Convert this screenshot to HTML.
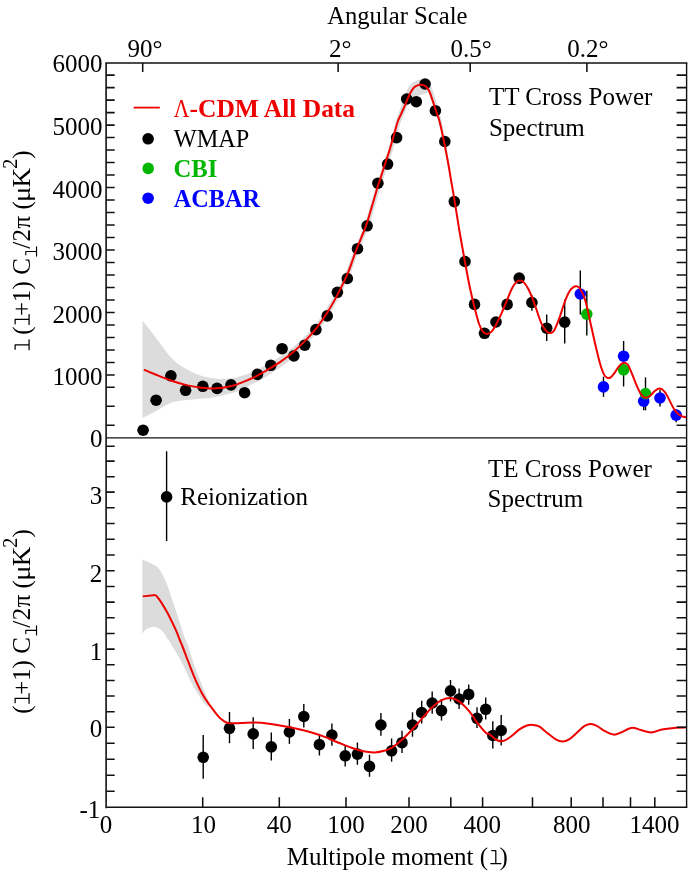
<!DOCTYPE html>
<html><head><meta charset="utf-8"><title>WMAP TT and TE power spectra</title>
<style>html,body{margin:0;padding:0;background:#fff}svg{display:block;will-change:transform}text{font-family:"Liberation Serif",serif;font-size:25px;fill:#000}.m{font-family:"Liberation Mono",monospace}.b{font-weight:bold}</style></head><body>
<svg width="689" height="877" viewBox="0 0 689 877">
<rect width="689" height="877" fill="#fff"/>
<path d="M142.5,320.8 C144.8,323.6 151.5,332.0 156.1,337.9 C160.7,343.8 165.7,351.4 170.0,356.2 C174.3,361.0 177.2,363.4 182.2,366.6 C187.1,369.8 193.9,373.3 199.7,375.3 C205.5,377.3 211.3,378.4 217.1,378.8 C222.9,379.2 231.0,378.1 234.5,377.9 C238.0,377.6 237.4,377.4 238.0,377.3 L238.0,391.0 C237.4,391.2 238.0,391.2 234.5,392.2 C231.0,393.1 222.9,395.6 217.1,396.7 C211.3,397.8 205.5,398.1 199.7,398.8 C193.9,399.5 187.1,399.9 182.2,400.6 C177.2,401.3 174.3,401.5 170.0,403.2 C165.7,404.9 160.7,408.5 156.1,411.0 C151.5,413.5 144.8,416.8 142.5,418.0Z" fill="#dcdcdc"/>
<path d="M236.2,391.9 C236.4,391.9 237.2,391.6 237.7,391.4 C238.1,391.3 238.5,391.2 238.9,391.0 C239.3,390.9 239.7,390.7 240.0,390.5 C240.3,390.4 240.5,390.2 240.9,390.0 C241.4,389.8 241.8,389.5 242.5,389.2 C243.2,388.8 244.2,388.3 245.2,387.8 C246.2,387.3 247.4,386.7 248.6,386.0 C249.8,385.4 251.1,384.7 252.4,384.1 C253.7,383.4 255.0,382.8 256.3,382.2 C257.5,381.6 258.7,381.0 259.8,380.4 C260.9,379.8 261.9,379.3 262.9,378.7 C263.9,378.1 264.8,377.5 265.8,377.0 C266.7,376.4 267.6,375.8 268.4,375.3 C269.3,374.7 270.1,374.2 271.0,373.6 C271.8,373.1 272.6,372.6 273.4,372.0 C274.2,371.5 275.0,371.0 275.7,370.5 C276.5,370.0 277.2,369.5 278.0,369.0 C278.7,368.5 279.4,368.0 280.2,367.5 C280.9,367.0 281.6,366.5 282.4,365.9 C283.1,365.4 283.9,364.8 284.7,364.2 C285.4,363.6 286.2,363.0 287.0,362.4 C287.8,361.8 288.6,361.1 289.4,360.5 C290.2,359.8 291.0,359.1 291.8,358.5 C292.5,357.8 293.3,357.1 294.1,356.4 C294.9,355.7 295.7,355.0 296.4,354.3 C297.2,353.6 297.9,352.9 298.6,352.2 C299.4,351.5 300.1,350.8 300.8,350.1 C301.5,349.4 302.2,348.7 302.9,348.0 C303.7,347.3 304.4,346.5 305.1,345.8 C305.8,345.0 306.5,344.3 307.2,343.5 C308.0,342.7 308.7,341.9 309.4,341.1 C310.1,340.3 310.9,339.5 311.6,338.7 C312.3,337.9 313.1,337.1 313.8,336.2 C314.5,335.3 315.3,334.4 316.0,333.5 C316.8,332.6 317.5,331.7 318.3,330.7 C319.0,329.7 319.8,328.7 320.5,327.7 C321.3,326.6 322.1,325.6 322.8,324.5 C323.6,323.4 324.4,322.3 325.1,321.2 C325.9,320.0 326.6,318.9 327.4,317.7 C328.1,316.6 328.8,315.4 329.6,314.3 C330.3,313.1 331.0,312.0 331.7,310.8 C332.3,309.6 333.0,308.4 333.7,307.3 C334.4,306.1 335.0,304.8 335.7,303.6 C336.4,302.4 337.0,301.2 337.7,299.9 C338.3,298.7 339.0,297.4 339.7,296.1 C340.3,294.8 341.0,293.4 341.7,292.0 C342.4,290.6 343.2,289.1 343.9,287.7 C344.6,286.2 345.3,284.8 346.0,283.3 C346.7,281.9 347.3,280.5 348.0,279.2 C348.6,277.9 349.2,276.6 349.7,275.4 C350.2,274.3 350.7,273.2 351.1,272.1 C351.5,271.1 351.9,270.1 352.2,269.1 C352.6,268.2 352.9,267.2 353.2,266.4 C353.5,265.5 353.8,264.7 354.1,263.8 C354.4,263.0 354.7,262.2 355.0,261.4 C355.3,260.6 355.6,259.8 355.8,259.1 C356.1,258.4 356.3,257.7 356.6,257.0 C356.8,256.4 357.0,255.7 357.3,255.1 C357.5,254.4 357.7,253.8 358.0,253.1 C358.3,252.4 358.5,251.7 358.8,251.0 C359.1,250.2 359.4,249.4 359.7,248.6 C360.1,247.8 360.4,247.0 360.7,246.2 C361.1,245.4 361.4,244.5 361.8,243.7 C362.1,242.8 362.5,242.0 362.8,241.1 C363.2,240.3 363.5,239.4 363.9,238.6 C364.2,237.8 364.5,237.1 364.8,236.3 C365.1,235.6 365.4,234.9 365.8,234.1 C366.1,233.4 366.4,232.6 366.7,231.8 C367.0,231.0 367.4,230.2 367.7,229.3 C368.1,228.4 368.4,227.5 368.8,226.4 C369.1,225.4 369.5,224.2 369.9,223.0 C370.3,221.9 370.7,220.6 371.1,219.3 C371.4,218.0 371.8,216.7 372.2,215.4 C372.6,214.1 373.0,212.7 373.4,211.4 C373.8,210.2 374.2,208.9 374.6,207.6 C375.0,206.3 375.3,205.1 375.7,203.8 C376.1,202.5 376.5,201.2 376.8,200.0 C377.2,198.7 377.6,197.4 377.9,196.1 C378.3,194.9 378.7,193.7 379.0,192.5 C379.4,191.3 379.7,190.2 380.0,189.2 C380.4,188.1 380.7,187.1 381.0,186.2 C381.3,185.2 381.6,184.3 381.9,183.4 C382.2,182.6 382.5,181.7 382.8,180.9 C383.0,180.0 383.3,179.2 383.6,178.3 C383.9,177.5 384.2,176.6 384.5,175.7 C384.8,174.9 385.0,174.0 385.3,173.1 C385.6,172.2 385.9,171.4 386.2,170.5 C386.4,169.7 386.7,168.8 387.0,168.0 C387.3,167.1 387.5,166.3 387.8,165.4 C388.1,164.6 388.4,163.8 388.6,162.9 C388.9,162.1 389.2,161.3 389.4,160.5 C389.7,159.7 390.0,158.9 390.2,158.1 C390.5,157.3 390.8,156.6 391.0,155.8 C391.3,155.0 391.6,154.2 391.8,153.4 C392.1,152.6 392.3,151.7 392.6,150.9 C392.8,150.1 393.1,149.3 393.3,148.5 C393.6,147.7 393.8,146.9 394.0,146.1 C394.3,145.3 394.5,144.5 394.8,143.7 C395.0,142.9 395.2,142.0 395.5,141.2 C395.7,140.3 396.0,139.4 396.3,138.5 C396.5,137.5 396.8,136.5 397.1,135.4 C397.4,134.3 397.7,133.2 398.0,132.1 C398.3,131.0 398.6,129.8 398.9,128.7 C399.2,127.6 399.4,126.5 399.7,125.6 C400.0,124.6 400.2,123.7 400.4,123.0 C400.7,122.2 400.9,121.6 401.1,121.0 C401.3,120.4 401.5,119.9 401.7,119.4 C401.9,119.0 402.1,118.5 402.3,118.1 C402.5,117.6 402.7,117.1 403.0,116.6 C403.2,116.1 403.4,115.5 403.7,114.9 C403.9,114.3 404.2,113.7 404.5,113.0 C404.7,112.4 405.0,111.7 405.3,111.1 C405.5,110.4 405.8,109.7 406.1,109.1 C406.4,108.4 406.7,107.7 406.9,107.1 C407.2,106.4 407.5,105.8 407.7,105.1 C408.0,104.5 408.2,103.9 408.4,103.3 C408.6,102.6 408.9,102.0 409.1,101.4 C409.3,100.8 409.5,100.2 409.7,99.7 C409.9,99.1 410.1,98.6 410.3,98.0 C410.6,97.5 410.8,97.0 411.0,96.4 C411.3,95.9 411.5,95.4 411.8,94.8 C412.1,94.3 412.3,93.7 412.6,93.2 C412.9,92.7 413.1,92.2 413.4,91.7 C413.7,91.2 413.9,90.8 414.2,90.4 C414.4,90.0 414.7,89.6 414.9,89.3 C415.1,89.0 415.3,88.8 415.5,88.6 C415.7,88.4 415.9,88.3 416.1,88.1 C416.3,88.0 416.5,87.8 416.7,87.7 C416.9,87.6 417.2,87.5 417.4,87.4 C417.7,87.2 417.9,87.1 418.1,87.0 C418.4,86.9 418.6,86.8 418.8,86.7 C419.0,86.6 419.2,86.6 419.4,86.5 C419.6,86.4 419.8,86.4 420.0,86.4 C420.2,86.3 420.4,86.3 420.6,86.3 C420.8,86.3 421.0,86.3 421.2,86.3 C421.4,86.3 421.6,86.3 421.8,86.3 C422.0,86.4 422.2,86.4 422.5,86.5 C422.7,86.5 422.9,86.6 423.1,86.6 C423.3,86.7 423.5,86.8 423.7,86.9 C423.9,87.0 424.0,87.0 424.2,87.1 C424.4,87.2 424.5,87.3 424.7,87.4 C424.8,87.5 424.9,87.7 425.1,87.8 C425.2,87.9 425.4,88.1 425.5,88.2 C425.6,88.4 425.8,88.6 425.9,88.7 C426.1,88.9 426.2,89.1 426.4,89.3 C426.5,89.5 426.6,89.7 426.8,89.9 C426.9,90.1 427.0,90.2 427.1,90.4 C427.2,90.6 427.3,90.8 427.5,91.0 C427.6,91.2 427.7,91.5 427.8,91.8 C428.0,92.1 428.1,92.4 428.3,92.8 C428.5,93.2 428.6,93.6 428.8,94.1 C429.0,94.6 429.2,95.1 429.4,95.7 C429.6,96.2 429.8,96.8 430.0,97.4 C430.2,98.0 430.4,98.7 430.6,99.3 C430.9,99.9 431.1,100.5 431.3,101.2 C431.5,101.8 431.7,102.4 432.0,103.1 C432.2,103.8 432.4,104.5 432.7,105.2 C432.9,105.9 433.1,106.6 433.4,107.3 C433.6,108.0 433.9,108.7 434.1,109.5 C434.3,110.2 434.6,110.9 434.8,111.6 C435.1,112.3 435.3,113.0 435.6,113.6 C435.8,114.2 436.0,114.8 436.3,115.4 C436.5,116.0 436.7,116.6 437.0,117.3 C437.2,117.9 437.5,118.6 437.7,119.5 C438.0,120.3 438.2,121.2 438.5,122.3 C438.8,123.4 439.1,124.6 439.5,126.0 C439.8,127.3 440.1,128.8 440.5,130.3 C440.8,131.8 441.2,133.4 441.5,135.0 C441.9,136.5 442.2,138.2 442.5,139.7 C442.9,141.2 443.2,142.7 443.5,144.2 C443.8,145.7 444.1,147.1 444.4,148.5 C444.7,150.0 445.1,151.5 445.4,152.9 C445.7,154.4 446.0,155.8 446.2,157.2 C446.5,158.6 446.8,160.0 447.1,161.3 C447.3,162.6 447.6,163.9 447.8,165.1 C448.1,166.3 448.3,167.4 448.5,168.4 C448.7,169.4 448.8,170.4 449.0,171.3 C449.2,172.2 449.3,173.1 449.5,174.1 C449.6,175.0 449.8,175.9 450.0,176.9 C450.2,177.9 450.3,179.0 450.6,180.1 C450.8,181.2 451.0,182.3 451.2,183.5 C451.4,184.6 451.6,185.8 451.9,186.9 C452.1,188.1 452.3,189.3 452.6,190.6 C452.8,192.0 453.1,193.3 453.4,194.8 C453.7,196.3 453.9,197.8 454.3,199.5 C454.6,201.2 455.1,204.2 455.2,205.1 L455.4,205.1 C455.3,204.1 454.8,201.2 454.6,199.5 C454.4,197.7 454.1,196.2 453.9,194.7 C453.7,193.2 453.5,191.8 453.3,190.5 C453.1,189.2 452.9,188.0 452.7,186.8 C452.5,185.6 452.3,184.5 452.1,183.3 C452.0,182.2 451.8,181.0 451.6,179.9 C451.5,178.8 451.3,177.7 451.2,176.7 C451.0,175.7 450.9,174.8 450.8,173.8 C450.6,172.9 450.5,172.0 450.4,171.1 C450.2,170.1 450.1,169.2 449.9,168.2 C449.8,167.1 449.6,166.0 449.4,164.8 C449.3,163.6 449.0,162.3 448.8,161.0 C448.6,159.7 448.4,158.3 448.2,156.9 C447.9,155.5 447.7,154.0 447.5,152.5 C447.2,151.1 447.0,149.6 446.7,148.1 C446.4,146.6 446.2,145.2 445.9,143.7 C445.7,142.2 445.4,140.7 445.1,139.2 C444.9,137.6 444.6,136.0 444.3,134.4 C444.0,132.8 443.7,131.2 443.4,129.6 C443.1,128.1 442.8,126.6 442.6,125.2 C442.3,123.9 442.0,122.6 441.8,121.5 C441.5,120.3 441.3,119.4 441.1,118.5 C440.8,117.6 440.6,116.8 440.4,116.1 C440.2,115.4 440.0,114.7 439.8,114.1 C439.6,113.5 439.4,112.9 439.2,112.3 C439.0,111.7 438.8,111.0 438.6,110.4 C438.4,109.7 438.2,108.9 438.0,108.2 C437.8,107.5 437.6,106.7 437.4,106.0 C437.2,105.3 437.0,104.6 436.8,103.8 C436.6,103.1 436.4,102.4 436.2,101.7 C436.0,101.0 435.8,100.4 435.6,99.7 C435.5,99.1 435.3,98.4 435.1,97.8 C434.9,97.1 434.7,96.5 434.5,95.9 C434.4,95.2 434.2,94.6 434.0,94.0 C433.8,93.5 433.6,92.9 433.5,92.3 C433.3,91.8 433.1,91.3 433.0,90.9 C432.8,90.4 432.7,90.0 432.5,89.6 C432.4,89.2 432.2,88.9 432.1,88.6 C431.9,88.2 431.8,87.9 431.6,87.7 C431.5,87.4 431.3,87.1 431.2,86.9 C431.0,86.6 430.9,86.4 430.7,86.1 C430.5,85.9 430.4,85.6 430.2,85.3 C430.0,85.1 429.8,84.8 429.6,84.5 C429.4,84.3 429.2,84.0 429.0,83.7 C428.7,83.4 428.4,83.2 428.1,82.9 C427.8,82.6 427.5,82.4 427.2,82.1 C426.8,81.9 426.5,81.7 426.1,81.5 C425.8,81.3 425.4,81.1 425.1,81.0 C424.7,80.8 424.3,80.6 423.9,80.5 C423.6,80.4 423.2,80.2 422.8,80.1 C422.4,80.0 422.0,80.0 421.6,79.9 C421.2,79.8 420.8,79.8 420.4,79.8 C420.0,79.8 419.6,79.8 419.2,79.8 C418.8,79.9 418.3,80.0 417.9,80.1 C417.5,80.2 417.1,80.3 416.8,80.5 C416.4,80.6 416.0,80.8 415.7,81.0 C415.4,81.1 415.1,81.2 414.8,81.4 C414.5,81.6 414.1,81.7 413.7,82.0 C413.4,82.2 412.9,82.5 412.5,82.8 C412.1,83.1 411.6,83.5 411.2,83.9 C410.8,84.3 410.4,84.8 410.0,85.2 C409.6,85.7 409.3,86.3 408.9,86.8 C408.6,87.3 408.3,87.9 408.0,88.5 C407.7,89.0 407.4,89.6 407.1,90.2 C406.8,90.8 406.5,91.4 406.2,92.0 C405.9,92.6 405.7,93.1 405.4,93.7 C405.1,94.3 404.9,94.9 404.7,95.5 C404.4,96.1 404.2,96.8 404.0,97.4 C403.8,98.0 403.6,98.6 403.4,99.2 C403.2,99.8 403.0,100.4 402.9,101.0 C402.7,101.6 402.5,102.2 402.3,102.8 C402.1,103.4 401.8,104.1 401.6,104.7 C401.4,105.4 401.1,106.1 400.9,106.7 C400.6,107.4 400.4,108.1 400.2,108.8 C399.9,109.4 399.7,110.1 399.4,110.8 C399.2,111.4 399.0,112.1 398.8,112.7 C398.5,113.3 398.3,113.8 398.2,114.3 C398.0,114.8 397.8,115.3 397.6,115.8 C397.4,116.3 397.2,116.8 397.0,117.3 C396.8,117.9 396.6,118.5 396.4,119.1 C396.1,119.8 395.9,120.5 395.7,121.4 C395.5,122.2 395.2,123.2 395.0,124.2 C394.8,125.2 394.5,126.3 394.3,127.4 C394.0,128.5 393.8,129.7 393.5,130.8 C393.2,132.0 392.9,133.1 392.6,134.2 C392.3,135.2 392.0,136.2 391.7,137.2 C391.5,138.1 391.2,139.0 391.0,139.9 C390.7,140.7 390.5,141.6 390.2,142.4 C390.0,143.2 389.8,144.0 389.5,144.8 C389.3,145.6 389.1,146.4 388.8,147.2 C388.6,147.9 388.4,148.7 388.1,149.5 C387.9,150.3 387.6,151.1 387.4,151.9 C387.1,152.7 386.8,153.5 386.6,154.3 C386.3,155.1 386.1,155.9 385.8,156.7 C385.5,157.5 385.3,158.3 385.0,159.1 C384.7,159.9 384.5,160.7 384.2,161.5 C383.9,162.3 383.6,163.2 383.4,164.0 C383.1,164.8 382.8,165.7 382.6,166.5 C382.3,167.4 382.0,168.2 381.7,169.1 C381.5,170.0 381.2,170.8 380.9,171.7 C380.6,172.6 380.3,173.4 380.0,174.3 C379.8,175.2 379.5,176.0 379.2,176.9 C378.9,177.7 378.6,178.5 378.3,179.4 C378.1,180.2 377.8,181.1 377.5,182.0 C377.2,182.9 376.9,183.8 376.6,184.8 C376.2,185.7 375.9,186.7 375.6,187.8 C375.3,188.9 374.9,190.0 374.6,191.2 C374.2,192.4 373.9,193.6 373.5,194.9 C373.1,196.1 372.8,197.4 372.4,198.7 C372.0,200.0 371.6,201.3 371.3,202.5 C370.9,203.8 370.5,205.0 370.1,206.3 C369.8,207.6 369.4,208.8 369.0,210.1 C368.6,211.4 368.2,212.8 367.8,214.1 C367.4,215.4 367.0,216.7 366.6,218.0 C366.3,219.2 365.9,220.5 365.5,221.6 C365.1,222.8 364.8,223.9 364.4,224.9 C364.1,225.9 363.7,226.8 363.4,227.7 C363.1,228.6 362.8,229.3 362.4,230.1 C362.1,230.9 361.8,231.6 361.5,232.3 C361.2,233.1 360.9,233.8 360.5,234.5 C360.2,235.3 359.9,236.1 359.5,236.9 C359.2,237.7 358.9,238.5 358.5,239.4 C358.2,240.2 357.8,241.0 357.4,241.9 C357.1,242.7 356.7,243.6 356.4,244.4 C356.0,245.2 355.7,246.1 355.4,246.9 C355.0,247.7 354.7,248.5 354.4,249.3 C354.1,250.0 353.8,250.8 353.5,251.5 C353.3,252.2 353.0,252.8 352.8,253.5 C352.6,254.1 352.3,254.8 352.1,255.4 C351.8,256.1 351.6,256.8 351.3,257.5 C351.1,258.2 350.8,259.0 350.5,259.8 C350.2,260.6 349.9,261.4 349.6,262.2 C349.3,263.1 349.0,263.9 348.7,264.8 C348.4,265.6 348.0,266.5 347.7,267.4 C347.3,268.4 347.0,269.3 346.6,270.3 C346.2,271.3 345.7,272.3 345.2,273.5 C344.7,274.6 344.1,275.9 343.5,277.1 C342.9,278.4 342.2,279.8 341.5,281.2 C340.8,282.6 340.1,284.1 339.4,285.5 C338.7,286.9 337.9,288.4 337.2,289.7 C336.5,291.1 335.8,292.4 335.1,293.7 C334.4,295.0 333.8,296.2 333.1,297.4 C332.4,298.7 331.8,299.9 331.1,301.1 C330.4,302.2 329.7,303.4 329.0,304.6 C328.4,305.7 327.7,306.8 327.0,308.0 C326.3,309.1 325.6,310.2 324.8,311.3 C324.1,312.4 323.4,313.5 322.6,314.6 C321.9,315.7 321.1,316.8 320.4,317.9 C319.6,318.9 318.8,320.0 318.1,321.0 C317.3,322.1 316.5,323.1 315.8,324.1 C315.0,325.0 314.3,326.0 313.5,326.9 C312.8,327.8 312.0,328.7 311.3,329.5 C310.6,330.4 309.8,331.2 309.1,332.0 C308.3,332.8 307.6,333.5 306.8,334.3 C306.1,335.0 305.4,335.8 304.6,336.5 C303.9,337.3 303.1,338.0 302.4,338.7 C301.6,339.4 300.9,340.1 300.2,340.8 C299.4,341.5 298.7,342.2 298.0,342.8 C297.3,343.5 296.6,344.1 295.8,344.8 C295.1,345.4 294.4,346.0 293.6,346.7 C292.9,347.3 292.2,347.9 291.4,348.5 C290.6,349.1 289.8,349.7 289.1,350.3 C288.3,350.9 287.5,351.5 286.7,352.1 C285.9,352.6 285.1,353.2 284.3,353.8 C283.5,354.3 282.7,354.9 281.9,355.4 C281.1,356.0 280.3,356.5 279.5,357.0 C278.8,357.5 278.0,357.9 277.3,358.4 C276.6,358.8 275.9,359.2 275.1,359.7 C274.4,360.1 273.7,360.5 272.9,360.9 C272.2,361.3 271.4,361.7 270.6,362.2 C269.9,362.6 269.0,363.1 268.2,363.6 C267.4,364.0 266.5,364.5 265.7,365.0 C264.8,365.5 264.0,366.0 263.1,366.5 C262.3,367.0 261.4,367.5 260.5,368.0 C259.6,368.5 258.8,368.9 257.8,369.4 C256.9,369.9 256.0,370.3 255.0,370.8 C254.0,371.3 252.9,371.7 251.7,372.2 C250.5,372.7 249.2,373.3 247.9,373.8 C246.6,374.3 245.2,374.7 244.0,375.1 C242.7,375.5 241.5,375.9 240.4,376.3 C239.3,376.6 238.3,377.0 237.5,377.2 C236.7,377.5 236.1,377.7 235.6,377.9 C235.1,378.0 234.9,378.2 234.7,378.2 C234.5,378.3 234.6,378.2 234.6,378.2 C234.5,378.2 234.5,378.2 234.2,378.2 C233.9,378.3 233.0,378.4 232.8,378.5Z" fill="#dcdcdc"/>
<path d="M406.3,103.5 C408,92 412.5,81.8 419,79.9 C421,79.4 423,79.6 424.5,80.5 L431,94 L428.5,92.5 C426,93 424,94 421.3,94.8 C417,96 413,97.5 410.5,99.5 L407.8,105.5 Z" fill="#dcdcdc"/>
<path d="M142.3,559.5 C143.8,560.2 148.6,562.1 151.3,563.5 C154.0,564.9 156.3,565.8 158.3,567.9 C160.3,570.0 161.7,573.0 163.2,576.0 C164.7,579.0 166.1,582.0 167.5,585.8 C168.9,589.6 170.4,594.5 171.8,598.8 C173.2,603.1 174.8,607.5 176.2,611.8 C177.6,616.1 179.2,620.6 180.5,624.8 C181.8,628.9 183.2,633.8 184.3,636.7 C185.4,639.7 185.9,640.0 186.8,642.5 C187.8,645.0 188.7,647.8 190.0,651.9 C191.3,656.0 193.4,662.7 194.9,667.0 C196.4,671.3 197.6,673.7 199.2,677.9 C200.9,682.1 203.2,688.1 204.7,692.0 C206.2,695.9 207.9,699.5 208.5,701.0 L210.0,707.5 C209.3,707.1 207.2,706.4 205.8,705.0 C204.3,703.6 203.7,702.6 201.4,699.0 C199.1,695.4 195.1,689.7 191.7,683.3 C188.3,676.9 184.4,667.5 180.8,660.6 C177.2,653.8 172.2,645.8 170.0,642.2 C167.8,638.6 168.4,640.3 167.5,638.8 C166.6,637.3 165.6,635.0 164.3,633.4 C163.0,631.8 161.5,630.2 159.9,629.1 C158.3,628.0 156.6,627.2 155.0,626.9 C153.4,626.6 151.7,627.0 150.2,627.5 C148.7,628.0 147.1,628.5 145.8,629.6 C144.5,630.7 142.9,633.3 142.3,634.0Z" fill="#dcdcdc"/>
<line x1="531.9" y1="295.0" x2="531.9" y2="310.7" stroke="#000" stroke-width="1.4"/>
<line x1="546.7" y1="314.4" x2="546.7" y2="341.1" stroke="#000" stroke-width="1.4"/>
<line x1="564.7" y1="299.4" x2="564.7" y2="343.6" stroke="#000" stroke-width="1.4"/>
<line x1="580.3" y1="270.6" x2="580.3" y2="314.6" stroke="#000" stroke-width="1.4"/>
<line x1="586.8" y1="290.7" x2="586.8" y2="335.6" stroke="#000" stroke-width="1.4"/>
<line x1="603.5" y1="376.7" x2="603.5" y2="396.9" stroke="#000" stroke-width="1.4"/>
<line x1="623.6" y1="341.0" x2="623.6" y2="386.5" stroke="#000" stroke-width="1.4"/>
<line x1="643.7" y1="390.0" x2="643.7" y2="410.3" stroke="#000" stroke-width="1.4"/>
<line x1="645.5" y1="377.4" x2="645.5" y2="410.3" stroke="#000" stroke-width="1.4"/>
<line x1="660.0" y1="389.7" x2="660.0" y2="406.4" stroke="#000" stroke-width="1.4"/>
<line x1="676.2" y1="409.2" x2="676.2" y2="422.2" stroke="#000" stroke-width="1.4"/>
<circle cx="143.1" cy="430.2" r="5.8" fill="#000"/>
<circle cx="156.1" cy="400.2" r="5.8" fill="#000"/>
<circle cx="170.9" cy="375.8" r="5.8" fill="#000"/>
<circle cx="185.6" cy="390.3" r="5.8" fill="#000"/>
<circle cx="202.8" cy="386.3" r="5.8" fill="#000"/>
<circle cx="217.1" cy="388.4" r="5.8" fill="#000"/>
<circle cx="231.0" cy="384.9" r="5.8" fill="#000"/>
<circle cx="244.6" cy="392.7" r="5.8" fill="#000"/>
<circle cx="257.4" cy="374.4" r="5.8" fill="#000"/>
<circle cx="270.8" cy="365.3" r="5.8" fill="#000"/>
<circle cx="282.1" cy="348.7" r="5.8" fill="#000"/>
<circle cx="293.9" cy="355.9" r="5.8" fill="#000"/>
<circle cx="304.8" cy="345.2" r="5.8" fill="#000"/>
<circle cx="315.9" cy="329.6" r="5.8" fill="#000"/>
<circle cx="327.2" cy="315.9" r="5.8" fill="#000"/>
<circle cx="337.4" cy="292.3" r="5.8" fill="#000"/>
<circle cx="347.3" cy="278.5" r="5.8" fill="#000"/>
<circle cx="357.5" cy="248.7" r="5.8" fill="#000"/>
<circle cx="367.1" cy="225.8" r="5.8" fill="#000"/>
<circle cx="377.9" cy="183.2" r="5.8" fill="#000"/>
<circle cx="387.6" cy="164.1" r="5.8" fill="#000"/>
<circle cx="396.6" cy="137.6" r="5.8" fill="#000"/>
<circle cx="406.7" cy="99.0" r="5.8" fill="#000"/>
<circle cx="416.3" cy="101.7" r="5.8" fill="#000"/>
<circle cx="425.1" cy="84.0" r="5.8" fill="#000"/>
<circle cx="435.4" cy="110.7" r="5.8" fill="#000"/>
<circle cx="444.8" cy="141.5" r="5.8" fill="#000"/>
<circle cx="454.3" cy="201.6" r="5.8" fill="#000"/>
<circle cx="465.0" cy="261.5" r="5.8" fill="#000"/>
<circle cx="474.5" cy="304.4" r="5.8" fill="#000"/>
<circle cx="484.5" cy="333.3" r="5.8" fill="#000"/>
<circle cx="496.0" cy="322.0" r="5.8" fill="#000"/>
<circle cx="507.1" cy="304.4" r="5.8" fill="#000"/>
<circle cx="519.2" cy="278.1" r="5.8" fill="#000"/>
<circle cx="531.9" cy="302.5" r="5.8" fill="#000"/>
<circle cx="546.7" cy="328.2" r="5.8" fill="#000"/>
<circle cx="564.7" cy="322.1" r="5.8" fill="#000"/>
<circle cx="580.3" cy="294.0" r="5.8" fill="#0000ff"/>
<circle cx="586.8" cy="314.1" r="5.8" fill="#00b600"/>
<circle cx="603.5" cy="386.9" r="5.8" fill="#0000ff"/>
<circle cx="623.6" cy="356.2" r="5.8" fill="#0000ff"/>
<circle cx="623.6" cy="369.8" r="5.8" fill="#00b600"/>
<circle cx="643.7" cy="401.2" r="5.8" fill="#0000ff"/>
<circle cx="645.5" cy="393.6" r="5.8" fill="#00b600"/>
<circle cx="660.0" cy="398.0" r="5.8" fill="#0000ff"/>
<circle cx="676.2" cy="415.1" r="5.8" fill="#0000ff"/>
<line x1="166.6" y1="451.3" x2="166.6" y2="541.0" stroke="#000" stroke-width="1.4"/>
<line x1="203.2" y1="735.0" x2="203.2" y2="778.7" stroke="#000" stroke-width="1.4"/>
<line x1="229.5" y1="712.0" x2="229.5" y2="743.2" stroke="#000" stroke-width="1.4"/>
<line x1="253.2" y1="717.2" x2="253.2" y2="749.0" stroke="#000" stroke-width="1.4"/>
<line x1="271.3" y1="732.5" x2="271.3" y2="760.6" stroke="#000" stroke-width="1.4"/>
<line x1="289.4" y1="719.0" x2="289.4" y2="743.9" stroke="#000" stroke-width="1.4"/>
<line x1="303.8" y1="703.9" x2="303.8" y2="727.6" stroke="#000" stroke-width="1.4"/>
<line x1="319.4" y1="733.9" x2="319.4" y2="755.5" stroke="#000" stroke-width="1.4"/>
<line x1="331.9" y1="723.4" x2="331.9" y2="745.7" stroke="#000" stroke-width="1.4"/>
<line x1="345.2" y1="745.2" x2="345.2" y2="766.4" stroke="#000" stroke-width="1.4"/>
<line x1="357.4" y1="742.5" x2="357.4" y2="764.8" stroke="#000" stroke-width="1.4"/>
<line x1="369.5" y1="754.8" x2="369.5" y2="776.8" stroke="#000" stroke-width="1.4"/>
<line x1="380.9" y1="713.0" x2="380.9" y2="735.7" stroke="#000" stroke-width="1.4"/>
<line x1="391.6" y1="738.5" x2="391.6" y2="761.7" stroke="#000" stroke-width="1.4"/>
<line x1="402.0" y1="730.8" x2="402.0" y2="752.9" stroke="#000" stroke-width="1.4"/>
<line x1="412.5" y1="712.3" x2="412.5" y2="736.7" stroke="#000" stroke-width="1.4"/>
<line x1="421.7" y1="700.7" x2="421.7" y2="723.4" stroke="#000" stroke-width="1.4"/>
<line x1="432.2" y1="691.4" x2="432.2" y2="713.7" stroke="#000" stroke-width="1.4"/>
<line x1="441.5" y1="699.0" x2="441.5" y2="720.6" stroke="#000" stroke-width="1.4"/>
<line x1="450.5" y1="680.0" x2="450.5" y2="701.4" stroke="#000" stroke-width="1.4"/>
<line x1="459.1" y1="688.6" x2="459.1" y2="709.0" stroke="#000" stroke-width="1.4"/>
<line x1="468.7" y1="684.4" x2="468.7" y2="704.8" stroke="#000" stroke-width="1.4"/>
<line x1="477.0" y1="707.2" x2="477.0" y2="728.1" stroke="#000" stroke-width="1.4"/>
<line x1="485.7" y1="697.4" x2="485.7" y2="719.5" stroke="#000" stroke-width="1.4"/>
<line x1="492.8" y1="721.3" x2="492.8" y2="748.6" stroke="#000" stroke-width="1.4"/>
<line x1="501.2" y1="714.9" x2="501.2" y2="745.5" stroke="#000" stroke-width="1.4"/>
<circle cx="166.6" cy="496.9" r="5.8" fill="#000"/>
<circle cx="203.2" cy="757.3" r="5.8" fill="#000"/>
<circle cx="229.5" cy="728.3" r="5.8" fill="#000"/>
<circle cx="253.2" cy="733.9" r="5.8" fill="#000"/>
<circle cx="271.3" cy="746.9" r="5.8" fill="#000"/>
<circle cx="289.4" cy="732.0" r="5.8" fill="#000"/>
<circle cx="303.8" cy="716.5" r="5.8" fill="#000"/>
<circle cx="319.4" cy="744.6" r="5.8" fill="#000"/>
<circle cx="331.9" cy="735.0" r="5.8" fill="#000"/>
<circle cx="345.2" cy="755.8" r="5.8" fill="#000"/>
<circle cx="357.4" cy="754.1" r="5.8" fill="#000"/>
<circle cx="369.5" cy="766.4" r="5.8" fill="#000"/>
<circle cx="380.9" cy="725.0" r="5.8" fill="#000"/>
<circle cx="391.6" cy="750.8" r="5.8" fill="#000"/>
<circle cx="402.0" cy="742.7" r="5.8" fill="#000"/>
<circle cx="412.5" cy="725.0" r="5.8" fill="#000"/>
<circle cx="421.7" cy="712.5" r="5.8" fill="#000"/>
<circle cx="432.2" cy="703.0" r="5.8" fill="#000"/>
<circle cx="441.5" cy="710.6" r="5.8" fill="#000"/>
<circle cx="450.5" cy="690.9" r="5.8" fill="#000"/>
<circle cx="459.1" cy="699.0" r="5.8" fill="#000"/>
<circle cx="468.7" cy="694.4" r="5.8" fill="#000"/>
<circle cx="477.0" cy="718.3" r="5.8" fill="#000"/>
<circle cx="485.7" cy="709.3" r="5.8" fill="#000"/>
<circle cx="492.8" cy="735.5" r="5.8" fill="#000"/>
<circle cx="501.2" cy="730.5" r="5.8" fill="#000"/>
<path d="M143.9,369.6 C145.9,370.5 151.6,373.0 156.1,374.8 C160.6,376.6 166.0,378.8 170.9,380.5 C175.8,382.2 180.8,383.7 185.6,384.9 C190.4,386.1 195.6,386.9 199.7,387.5 C203.8,388.1 206.6,388.3 210.1,388.4 C213.6,388.5 216.5,388.5 220.6,388.0 C224.7,387.5 231.3,386.0 234.5,385.2 C237.7,384.4 236.2,384.8 240.0,383.2 C243.8,381.6 252.3,378.2 257.4,375.6 C262.5,373.0 266.7,370.3 270.8,367.8 C274.9,365.3 278.2,363.3 282.1,360.6 C286.0,357.9 290.1,354.6 293.9,351.4 C297.7,348.1 301.1,344.9 304.8,341.1 C308.5,337.3 312.2,333.5 315.9,328.8 C319.6,324.1 323.6,318.5 327.2,312.8 C330.8,307.1 334.0,301.3 337.4,294.9 C340.8,288.5 344.8,280.1 347.3,274.4 C349.8,268.7 351.0,264.6 352.5,260.5 C354.0,256.4 354.8,253.8 356.3,250.0 C357.8,246.2 359.7,241.7 361.3,237.6 C362.9,233.5 364.4,230.6 366.1,225.5 C367.9,220.4 370.0,213.0 371.8,206.8 C373.6,200.6 375.6,193.6 377.2,188.3 C378.8,183.0 380.2,179.2 381.6,174.8 C383.0,170.4 384.4,166.1 385.7,162.0 C387.0,157.9 388.4,154.1 389.6,150.0 C390.9,145.9 391.9,142.3 393.2,137.6 C394.5,132.9 396.3,126.0 397.6,122.0 C398.9,118.0 399.9,116.8 401.2,113.8 C402.5,110.8 404.2,107.2 405.5,104.2 C406.8,101.2 407.8,98.2 409.1,95.5 C410.4,92.8 412.0,89.8 413.4,88.1 C414.8,86.4 416.2,86.0 417.5,85.4 C418.8,84.8 420.1,84.6 421.3,84.7 C422.6,84.8 423.9,85.2 425.0,85.8 C426.1,86.4 426.8,87.3 427.6,88.4 C428.4,89.5 428.9,90.2 429.7,92.2 C430.5,94.2 431.6,97.5 432.7,100.7 C433.8,103.9 434.9,107.7 436.1,111.2 C437.3,114.8 438.3,116.5 439.7,122.0 C441.1,127.5 443.0,136.8 444.5,144.0 C446.0,151.2 447.4,159.0 448.5,165.0 C449.6,171.0 450.0,174.2 451.0,180.0 C452.0,185.8 453.0,190.9 454.4,199.5 C455.8,208.1 457.7,220.9 459.5,231.3 C461.3,241.7 463.3,252.9 465.0,262.1 C466.7,271.3 468.1,279.2 469.7,286.7 C471.3,294.2 472.9,301.1 474.5,307.3 C476.1,313.5 477.6,319.6 479.0,323.7 C480.4,327.8 481.7,330.2 483.1,331.9 C484.5,333.6 485.8,333.9 487.2,333.9 C488.6,333.9 489.8,333.4 491.3,331.9 C492.8,330.4 494.3,327.8 496.0,324.7 C497.7,321.6 499.6,317.5 501.5,313.4 C503.4,309.3 505.4,304.2 507.1,300.1 C508.8,296.0 510.3,291.7 511.8,288.8 C513.3,285.9 514.5,284.0 515.9,282.6 C517.3,281.2 518.6,280.6 520.0,280.6 C521.4,280.6 522.7,281.2 524.1,282.6 C525.5,284.0 526.9,286.4 528.2,288.8 C529.5,291.2 530.5,293.6 531.9,297.0 C533.3,300.4 534.8,304.9 536.4,309.3 C538.0,313.8 539.8,320.0 541.5,323.7 C543.2,327.4 545.2,330.0 546.7,331.5 C548.2,333.0 549.5,333.1 550.8,332.9 C552.1,332.7 552.8,332.8 554.3,330.2 C555.8,327.6 558.0,321.9 559.7,317.2 C561.4,312.5 563.1,306.3 564.7,302.0 C566.3,297.7 568.0,293.7 569.5,291.2 C571.0,288.7 572.5,287.6 573.8,286.8 C575.1,286.0 576.0,286.0 577.1,286.4 C578.2,286.8 579.2,287.5 580.3,289.0 C581.4,290.5 582.5,292.6 583.6,295.5 C584.7,298.4 585.5,301.2 586.8,306.3 C588.0,311.4 589.6,319.3 591.1,325.8 C592.6,332.3 594.0,339.2 595.5,345.3 C597.0,351.4 598.4,357.8 599.8,362.7 C601.2,367.6 602.8,372.1 604.1,374.6 C605.4,377.1 606.3,377.3 607.4,377.8 C608.5,378.3 609.4,378.3 610.6,377.4 C611.9,376.5 613.5,374.3 614.9,372.4 C616.3,370.5 617.8,367.5 619.3,365.9 C620.8,364.3 622.2,362.9 623.6,362.7 C625.0,362.5 626.5,362.8 627.9,364.8 C629.3,366.8 630.8,371.2 632.3,374.6 C633.8,378.0 635.2,382.1 636.6,385.4 C638.0,388.6 639.5,392.1 640.9,394.1 C642.3,396.2 643.8,397.4 645.3,397.7 C646.8,398.0 648.0,397.3 649.6,396.2 C651.2,395.1 653.3,392.1 655.0,390.8 C656.7,389.5 658.4,388.4 660.0,388.6 C661.6,388.8 663.2,390.1 664.7,391.9 C666.2,393.7 667.7,396.8 669.1,399.5 C670.5,402.2 672.0,405.8 673.4,408.1 C674.8,410.5 676.2,412.2 677.7,413.6 C679.2,415.0 680.7,415.8 682.1,416.4 C683.5,417.0 685.7,417.1 686.4,417.2" fill="none" stroke="#ee0000" stroke-width="2.0" stroke-linejoin="round"/>
<path d="M142.8,596.3 L155.6,595 " fill="none" stroke="#ee0000" stroke-width="1.8"/>
<path d="M155.6,595.0 C156.3,595.9 158.4,598.3 159.9,600.4 C161.4,602.5 162.9,605.0 164.3,607.4 C165.8,609.8 167.2,612.3 168.6,615.0 C170.0,617.7 171.4,620.6 172.9,623.7 C174.4,626.8 176.2,630.7 177.3,633.4 C178.4,636.1 178.9,638.0 179.8,640.0 C180.6,642.0 181.0,642.8 182.1,645.5 C183.2,648.2 184.3,651.2 186.2,656.3 C188.2,661.3 191.1,669.5 193.8,675.8 C196.5,682.1 199.6,689.0 202.5,694.2 C205.4,699.4 208.5,703.4 211.2,707.2 C213.9,711.0 216.6,714.5 218.8,716.9 C220.9,719.2 222.5,720.2 224.2,721.3 C225.9,722.3 226.2,722.9 229.0,723.2 C231.8,723.5 236.8,723.1 241.1,723.0 C245.4,722.9 250.3,722.4 255.0,722.5 C259.6,722.6 264.4,723.1 269.0,723.7 C273.6,724.3 278.3,725.1 282.9,726.0 C287.5,726.9 292.1,727.8 296.8,728.8 C301.5,729.8 306.2,730.9 310.8,732.3 C315.4,733.6 320.1,735.2 324.7,736.9 C329.3,738.6 334.1,740.9 338.6,742.7 C343.1,744.5 347.5,746.4 351.6,747.8 C355.7,749.2 359.3,750.5 363.2,751.3 C367.1,752.1 371.3,752.5 374.8,752.4 C378.3,752.3 381.3,751.6 384.1,750.8 C386.9,750.0 388.6,749.6 391.6,747.8 C394.6,745.9 398.5,742.8 402.0,739.7 C405.5,736.6 409.2,732.7 412.5,729.2 C415.8,725.7 418.4,722.5 421.7,718.8 C425.0,715.1 428.9,710.3 432.2,707.2 C435.5,704.1 438.4,701.8 441.5,700.2 C444.6,698.7 447.6,697.7 450.5,697.9 C453.4,698.1 456.1,699.3 459.1,701.4 C462.1,703.5 465.7,707.1 468.7,710.6 C471.7,714.1 474.1,718.6 477.0,722.3 C479.9,726.0 483.8,730.8 485.8,732.7 C487.8,734.7 487.3,732.8 489.1,734.0 C490.9,735.2 494.4,738.8 496.7,740.0 C499.0,741.2 500.4,741.5 502.7,741.0 C505.0,740.5 507.5,738.9 510.3,737.0 C513.1,735.1 516.6,731.3 519.4,729.4 C522.2,727.5 524.7,726.2 527.0,725.5 C529.3,724.8 531.1,724.8 533.1,724.9 C535.1,725.0 536.8,725.1 539.1,726.4 C541.4,727.7 543.9,730.3 546.7,732.5 C549.5,734.7 553.2,737.9 555.8,739.4 C558.4,740.9 560.2,741.6 562.5,741.6 C564.8,741.6 567.1,740.6 569.5,739.1 C571.9,737.6 574.6,734.7 577.1,732.5 C579.6,730.3 582.3,727.2 584.6,725.8 C586.9,724.4 588.7,724.0 590.7,724.0 C592.7,724.0 594.5,724.6 596.8,725.8 C599.1,726.9 601.6,729.4 604.4,730.9 C607.2,732.4 610.7,734.3 613.5,734.6 C616.3,734.9 618.5,733.5 621.0,732.5 C623.5,731.5 626.4,729.6 628.6,728.8 C630.8,728.0 632.1,727.7 634.1,727.9 C636.1,728.1 637.9,729.2 640.8,730.0 C643.7,730.8 647.9,732.6 651.4,732.5 C654.9,732.4 658.2,730.2 662.0,729.4 C665.8,728.6 670.2,728.2 674.1,727.9 C678.0,727.6 683.7,727.6 685.6,727.6" fill="none" stroke="#ee0000" stroke-width="2.0" stroke-linejoin="round"/>
<path d="M106.1,808.1999999999999 V62.95 H687.35" fill="none" stroke="#111" stroke-width="1.6" stroke-linejoin="miter"/>
<path d="M686.6,62.95 V807.3" fill="none" stroke="#111" stroke-width="1.4"/>
<path d="M106.1,807.3 H687.3000000000001" fill="none" stroke="#111" stroke-width="1.55"/>
<path d="M106.1,437.75 H686.6" fill="none" stroke="#111" stroke-width="1.25"/>
<path d="M106.1,374.9 h8.6 M686.6,374.9 h-10 M106.1,362.4 h8.6 M686.6,362.4 h-10 M106.1,349.9 h8.6 M686.6,349.9 h-10 M106.1,337.4 h8.6 M686.6,337.4 h-10 M106.1,324.9 h8.6 M686.6,324.9 h-10 M106.1,312.4 h8.6 M686.6,312.4 h-10 M106.1,299.9 h8.6 M686.6,299.9 h-10 M106.1,287.4 h8.6 M686.6,287.4 h-10 M106.1,274.9 h8.6 M686.6,274.9 h-10 M106.1,262.4 h8.6 M686.6,262.4 h-10 M106.1,250.0 h8.6 M686.6,250.0 h-10 M106.1,237.5 h8.6 M686.6,237.5 h-10 M106.1,225.0 h8.6 M686.6,225.0 h-10 M106.1,212.5 h8.6 M686.6,212.5 h-10 M106.1,200.0 h8.6 M686.6,200.0 h-10 M106.1,187.5 h8.6 M686.6,187.5 h-10 M106.1,175.0 h8.6 M686.6,175.0 h-10 M106.1,162.5 h8.6 M686.6,162.5 h-10 M106.1,150.0 h8.6 M686.6,150.0 h-10 M106.1,137.5 h8.6 M686.6,137.5 h-10 M106.1,125.1 h8.6 M686.6,125.1 h-10 M106.1,112.6 h8.6 M686.6,112.6 h-10 M106.1,100.1 h8.6 M686.6,100.1 h-10 M106.1,87.6 h8.6 M686.6,87.6 h-10 M106.1,75.1 h8.6 M686.6,75.1 h-10 M106.1,387.3 h8.6 M686.6,387.3 h-10 M106.1,406.2 h8.6 M686.6,406.2 h-10 M106.1,425.2 h8.6 M686.6,425.2 h-10 M106.1,446.3 h8.6 M686.6,446.3 h-10 M106.1,461.1 h8.6 M686.6,461.1 h-10 M106.1,476.7 h8.6 M686.6,476.7 h-10 M106.1,492.1 h8.6 M686.6,492.1 h-10 M106.1,507.8 h8.6 M686.6,507.8 h-10 M106.1,523.5 h8.6 M686.6,523.5 h-10 M106.1,539.3 h8.6 M686.6,539.3 h-10 M106.1,555.0 h8.6 M686.6,555.0 h-10 M106.1,570.7 h8.6 M686.6,570.7 h-10 M106.1,586.4 h8.6 M686.6,586.4 h-10 M106.1,602.1 h8.6 M686.6,602.1 h-10 M106.1,617.7 h8.6 M686.6,617.7 h-10 M106.1,633.4 h8.6 M686.6,633.4 h-10 M106.1,649.1 h8.6 M686.6,649.1 h-10 M106.1,664.7 h8.6 M686.6,664.7 h-10 M106.1,680.4 h8.6 M686.6,680.4 h-10 M106.1,696.0 h8.6 M686.6,696.0 h-10 M106.1,711.7 h8.6 M686.6,711.7 h-10 M106.1,727.3 h8.6 M686.6,727.3 h-10 M106.1,743.3 h8.6 M686.6,743.3 h-10 M106.1,759.3 h8.6 M686.6,759.3 h-10 M106.1,775.3 h8.6 M686.6,775.3 h-10 M106.1,791.3 h8.6 M686.6,791.3 h-10 M202.7,807.3 v-10 M279.3,807.3 v-10 M346.0,807.3 v-10 M409.0,807.3 v-10 M450.8,807.3 v-10 M482.6,807.3 v-10 M532.5,807.3 v-10 M571.2,807.3 v-10 M603.0,807.3 v-10 M630.5,807.3 v-10 M654.8,807.3 v-10 M142.7,62.95 v9 M338.1,62.95 v9 M470.2,62.95 v9 M586.9,62.95 v9" fill="none" stroke="#111" stroke-width="1.55"/>
<text x="102.5" y="72.1" text-anchor="end" font-size="25.3">6000</text>
<text x="102.5" y="135.4" text-anchor="end" font-size="25.3">5000</text>
<text x="102.5" y="197.8" text-anchor="end" font-size="25.3">4000</text>
<text x="102.5" y="260.3" text-anchor="end" font-size="25.3">3000</text>
<text x="102.5" y="322.8" text-anchor="end" font-size="25.3">2000</text>
<text x="102.5" y="385.2" text-anchor="end" font-size="25.3">1000</text>
<text x="102.5" y="447.40000000000003" text-anchor="end" font-size="25.3">0</text>
<text x="100.3" y="817.8" text-anchor="end" font-size="25.3">-1</text>
<text x="102.3" y="503.7" text-anchor="end" font-size="25.3">3</text>
<text x="102.3" y="581.9" text-anchor="end" font-size="25.3">2</text>
<text x="102.3" y="659.8" text-anchor="end" font-size="25.3">1</text>
<text x="102.3" y="737.0" text-anchor="end" font-size="25.3">0</text>
<text x="106" y="832.5" text-anchor="middle" font-size="25.3">0</text>
<text x="203.5" y="832.5" text-anchor="middle" font-size="25.3">10</text>
<text x="279.3" y="832.5" text-anchor="middle" font-size="25.3">40</text>
<text x="346" y="832.5" text-anchor="middle" font-size="25.3">100</text>
<text x="409" y="832.5" text-anchor="middle" font-size="25.3">200</text>
<text x="482.3" y="832.5" text-anchor="middle" font-size="25.3">400</text>
<text x="571.8" y="832.5" text-anchor="middle" font-size="25.3">800</text>
<text x="654.6" y="832.5" text-anchor="middle" font-size="25.3">1400</text>
<text x="144.9" y="57.25" text-anchor="middle">90°</text>
<text x="340.2" y="57.25" text-anchor="middle">2°</text>
<text x="471.2" y="57.25" text-anchor="middle">0.5°</text>
<text x="587.8" y="57.25" text-anchor="middle">0.2°</text>
<text x="397.3" y="24.0" text-anchor="middle" textLength="140.3" lengthAdjust="spacingAndGlyphs">Angular Scale</text>
<text x="286.7" y="864.7">Multipole moment (</text>
<g transform="translate(490.8,864.3)"><path d="M0.00,-0.62 h10.00 M5.00,-0.62 V-13.78 h-4.07" fill="none" stroke="#000" stroke-width="1.25" stroke-linecap="round" stroke-linejoin="round"/></g>
<text x="499.6" y="864.7">)</text>
<line x1="133.7" y1="107.6" x2="159.8" y2="107.6" stroke="#ee0000" stroke-width="1.8"/>
<text x="173.8" y="116.9" class="b" style="fill:#ee0000"><tspan style="font-weight:normal" textLength="15.7" lengthAdjust="spacingAndGlyphs">Λ</tspan><tspan textLength="165.6" lengthAdjust="spacingAndGlyphs">-CDM All Data</tspan></text>
<circle cx="148.1" cy="138.8" r="5.8" fill="#000"/>
<text x="173.8" y="146.8" text-anchor="start" textLength="75.6" lengthAdjust="spacingAndGlyphs">WMAP</text>
<circle cx="148.2" cy="168.4" r="5.8" fill="#00b600"/>
<text x="173.4" y="176.9" class="b" style="fill:#00b600" textLength="44.0" lengthAdjust="spacingAndGlyphs">CBI</text>
<circle cx="148.1" cy="198.2" r="5.8" fill="#0000ff"/>
<text x="173.8" y="206.5" class="b" style="fill:#0000ff" textLength="86.3" lengthAdjust="spacingAndGlyphs">ACBAR</text>
<text x="489.0" y="105.4" text-anchor="start">TT Cross Power</text>
<text x="488.9" y="135.9" text-anchor="start">Spectrum</text>
<text x="488.0" y="477.0" text-anchor="start">TE Cross Power</text>
<text x="487.5" y="507.3" text-anchor="start">Spectrum</text>
<text x="180.3" y="505.3" text-anchor="start">Reionization</text>
<g transform="translate(29.7,349.8) rotate(-90)"><path d="M0.00,-0.62 h9.80 M4.90,-0.62 V-14.57 h-4.30" fill="none" stroke="#000" stroke-width="1.25" stroke-linecap="round" stroke-linejoin="round"/><path d="M25.40,-0.62 h9.80 M30.30,-0.62 V-14.57 h-4.30" fill="none" stroke="#000" stroke-width="1.25" stroke-linecap="round" stroke-linejoin="round"/><path d="M93.70,6.83 h9.20 M98.30,6.83 V-3.92 h-3.37" fill="none" stroke="#000" stroke-width="1.15" stroke-linecap="round" stroke-linejoin="round"/><text><tspan x="15.0">(</tspan><tspan x="33.9">+</tspan><tspan x="47.6">1</tspan><tspan x="60.3">)</tspan><tspan x="74.95">C</tspan><tspan x="101.0">/</tspan><tspan x="108.4">2</tspan><tspan x="121.4">π</tspan><tspan x="140.3">(</tspan><tspan x="147.6" textLength="15.8" lengthAdjust="spacingAndGlyphs">μ</tspan><tspan x="162.4" textLength="19.6" lengthAdjust="spacingAndGlyphs">K</tspan><tspan x="181.0" dy="-12.9" font-size="20">2</tspan><tspan x="191.1" dy="12.9">)</tspan></text></g>
<g transform="translate(29.7,728.7) rotate(-90)"><path d="M25.40,-0.62 h9.80 M30.30,-0.62 V-14.57 h-4.30" fill="none" stroke="#000" stroke-width="1.25" stroke-linecap="round" stroke-linejoin="round"/><path d="M93.70,6.83 h9.20 M98.30,6.83 V-3.92 h-3.37" fill="none" stroke="#000" stroke-width="1.15" stroke-linecap="round" stroke-linejoin="round"/><text><tspan x="15.0">(</tspan><tspan x="33.9">+</tspan><tspan x="47.6">1</tspan><tspan x="60.3">)</tspan><tspan x="74.95">C</tspan><tspan x="101.0">/</tspan><tspan x="108.4">2</tspan><tspan x="121.4">π</tspan><tspan x="140.3">(</tspan><tspan x="147.6" textLength="15.8" lengthAdjust="spacingAndGlyphs">μ</tspan><tspan x="162.4" textLength="19.6" lengthAdjust="spacingAndGlyphs">K</tspan><tspan x="181.0" dy="-12.9" font-size="20">2</tspan><tspan x="191.1" dy="12.9">)</tspan></text></g>
</svg></body></html>
